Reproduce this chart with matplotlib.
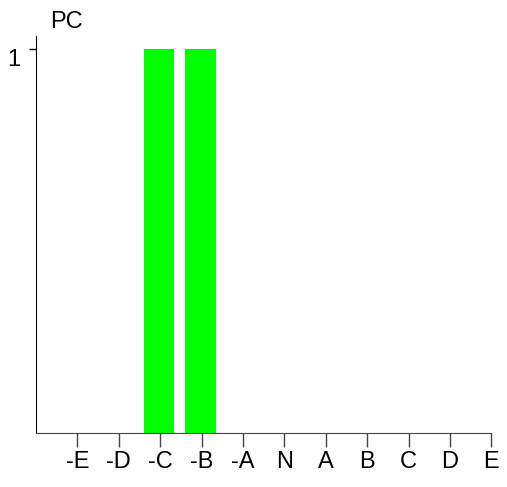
import matplotlib.pyplot as plt
import numpy as np

plt.rcParams['font.family'] = ['Liberation Sans', 'DejaVu Sans']

categories = ['-E', '-D', '-C', '-B', '-A', 'N', 'A', 'B', 'C', 'D', 'E']
values = [0, 0, 1, 1, 0, 0, 0, 0, 0, 0, 0]
bar_color = '#00ff00'

W, H = 507, 487
fig = plt.figure(figsize=(W / 100, H / 100), dpi=100)
ax = fig.add_axes([36 / W, (H - 432.7) / H, (491.3 - 36) / W, (432.7 - 36) / H])

x = np.arange(1, len(categories) + 1)
ax.bar(x - 0.03, values, width=0.74, color=bar_color, linewidth=0)

ax.set_xlim(0, 11)
ax.set_ylim(0, 1.034)
ax.set_xticks(x)
ax.set_xticklabels(categories, fontsize=17)
ax.set_yticks([1])
ax.set_yticklabels(['1'], fontsize=17)

for side in ['top', 'right']:
    ax.spines[side].set_visible(False)
ax.spines['left'].set_color('black')
ax.spines['bottom'].set_color('#444444')
ax.tick_params(axis='x', length=10, width=1, color='#444444', pad=3)
ax.tick_params(axis='y', length=5, width=1, color='black', pad=6)
for lbl in ax.get_yticklabels():
    lbl.set_va('top')
    lbl.set_y(1.0)

fig.text(66 / W, 1 - 22 / H, 'PC', fontsize=17, ha='center', va='center')

fig.savefig('out.png', dpi=100)
